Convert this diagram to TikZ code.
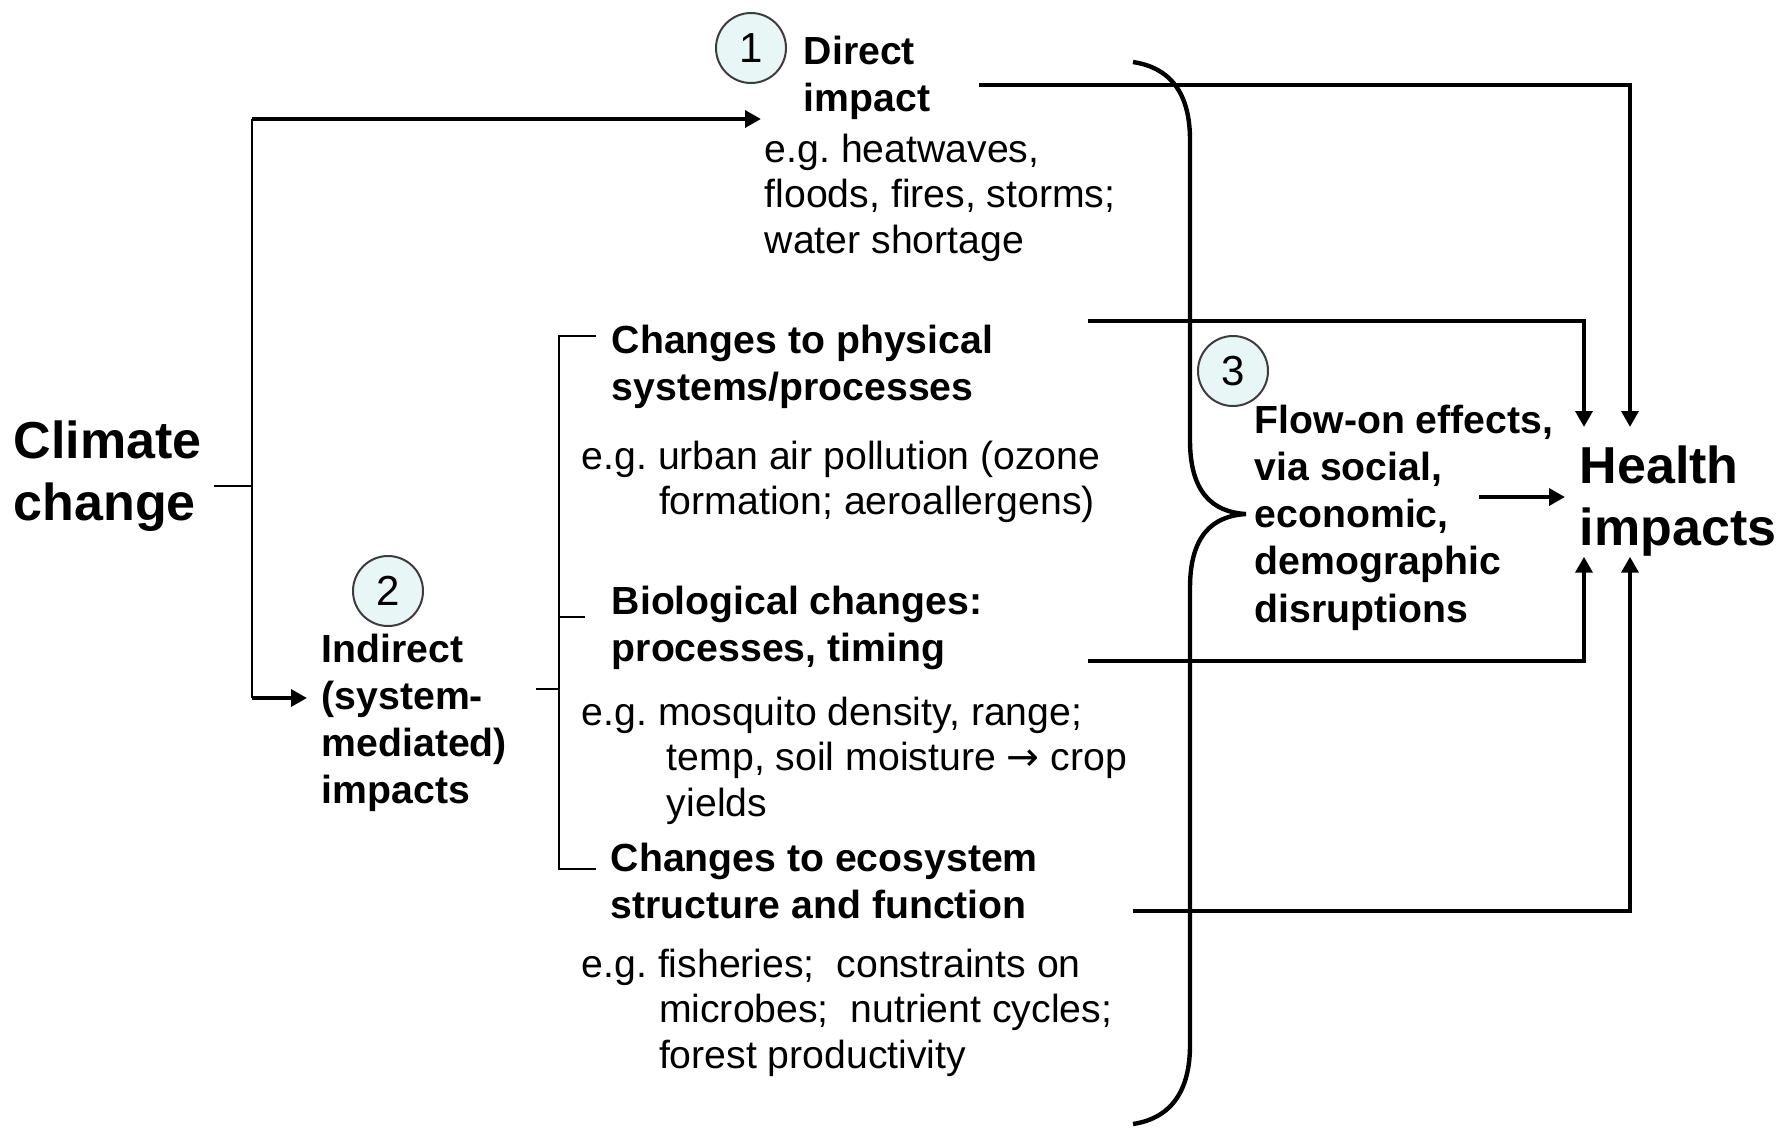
\documentclass[tikz,border=0pt]{standalone}
\usepackage{fontspec}
\setmainfont{Liberation Sans}
\newfontfamily\arrowfont{DejaVu Sans}
\usetikzlibrary{arrows.meta}

\definecolor{circfill}{RGB}{233,246,246}
\definecolor{circline}{RGB}{60,60,60}
\newcommand{\egind}{\hspace*{19.3pt}}
\newcommand{\yieldarrow}{{\arrowfont →}}

\tikzset{
  every node/.style={inner sep=0pt, align=left, anchor=north west},
  egtext/.style={font=\fontsize{9.8}{11.35}\selectfont},
  headtext/.style={font=\fontsize{9.8}{11.8}\selectfont\bfseries},
  bigtext/.style={font=\fontsize{13}{15.4}\selectfont\bfseries},
  numcircle/.style={circle, draw=circline, fill=circfill, line width=0.5pt,
    minimum size=17.5pt, anchor=center, font=\fontsize{10.5}{12}\selectfont},
  thinline/.style={line width=0.45pt},
  boldline/.style={line width=1.2pt},
  arrowed/.style={-{Triangle[length=4pt,width=4.2pt]}},
}

\begin{document}
\frenchspacing
\begin{tikzpicture}[x=0.25pt, y=-0.25pt]
  \useasboundingbox (0,0) rectangle (1781,1127);

  % Cause
  \node[bigtext] (climate) at (13,420) {Climate\\change};

  % 1: direct impact
  \node[numcircle] (num1) at (751,48) {1};
  \node[headtext] (direct) at (803,35) {Direct\\impact};
  \node[egtext] (direg) at (764,133) {e.g. heatwaves,\\floods, fires, storms;\\water shortage};

  % 2: indirect impacts
  \node[numcircle] (num2) at (388,591) {2};
  \node[headtext] (indirect) at (321,633) {Indirect\\(system-\\mediated)\\impacts};

  \node[headtext] (phys) at (611,324) {Changes to physical\\systems/processes};
  \node[egtext] (physeg) at (581,440) {e.g. urban air pollution (ozone\\\egind formation; aeroallergens)};
  \node[headtext] (bio) at (611,585) {Biological changes:\\processes, timing};
  \node[egtext] (bioeg) at (581,696) {e.g. mosquito density, range;\\\egind\hspace*{2pt}temp, soil moisture \yieldarrow{} crop\\\egind\hspace*{2pt}yields};
  \node[headtext] (eco) at (610,842) {Changes to ecosystem\\structure and function};
  \node[egtext] (ecoeg) at (581,948) {e.g. fisheries;~ constraints on\\\egind microbes;~ nutrient cycles;\\\egind forest productivity};

  % 3: flow-on effects
  \node[numcircle] (num3) at (1233,371) {3};
  \node[headtext] (flow) at (1254,404) {Flow-on effects,\\via social,\\economic,\\demographic\\disruptions};

  % Target
  \node[bigtext] (health) at (1579,445) {Health\\impacts};

  % Left branching
  \coordinate (split) at (252,486);
  \coordinate (treetop) at (252,119);
  \coordinate (treebot) at (252,698);
  \draw[thinline, shorten <=3pt] (climate.east |- split) -- (split);
  \draw[thinline] (treetop) -- (treebot);
  \draw[boldline, arrowed, shorten >=0.75pt] (treetop) -- (treetop -| direg.west);
  \draw[boldline, arrowed, shorten >=3.5pt] (treebot) -- (treebot -| indirect.west);

  % Bracket of systems
  \coordinate (brtop) at (559,336);
  \coordinate (brbot) at (559,869);
  \coordinate (brmid) at (559,617);
  \coordinate (brin) at (559,689);
  \draw[thinline, shorten <=3.75pt, shorten >=3.5pt]
    (phys.west |- brtop) -- (brtop) -- (brbot) -- (eco.west |- brbot);
  \draw[thinline] (brmid) -- +(26,0);
  \draw[thinline, shorten <=7pt] (indirect.east |- brin) -- (brin);

  % Curly brace
  \draw[line width=1.1pt]
    (1133,62) .. controls (1172,68) and (1190,95) .. (1190,140)
    -- (1190,440) .. controls (1190,492) and (1212,512) .. (1246,514)
    .. controls (1212,516) and (1190,536) .. (1190,588)
    -- (1190,1045) .. controls (1190,1090) and (1172,1118) .. (1133,1124);

  % Arrows to health impacts
  \coordinate (dirout) at (979,85);
  \coordinate (physout) at (1088,321);
  \coordinate (bioout) at (1088,661);
  \coordinate (ecoout) at (1133,911);
  \coordinate (busA) at (1584,0);
  \coordinate (busB) at (1630,0);
  \draw[boldline, arrowed, shorten >=4.5pt] (dirout) -| (busB |- health.north);
  \draw[boldline, arrowed, shorten >=4.5pt] (physout) -| (busA |- health.north);
  \draw[boldline, arrowed] (bioout) -| (busA |- health.south);
  \draw[boldline, arrowed] (ecoout) -| (busB |- health.south);
  \coordinate (flowout) at (1479,497);
  \draw[boldline, arrowed, shorten >=3.5pt] (flowout) -- (flowout -| health.west);
\end{tikzpicture}
\end{document}
